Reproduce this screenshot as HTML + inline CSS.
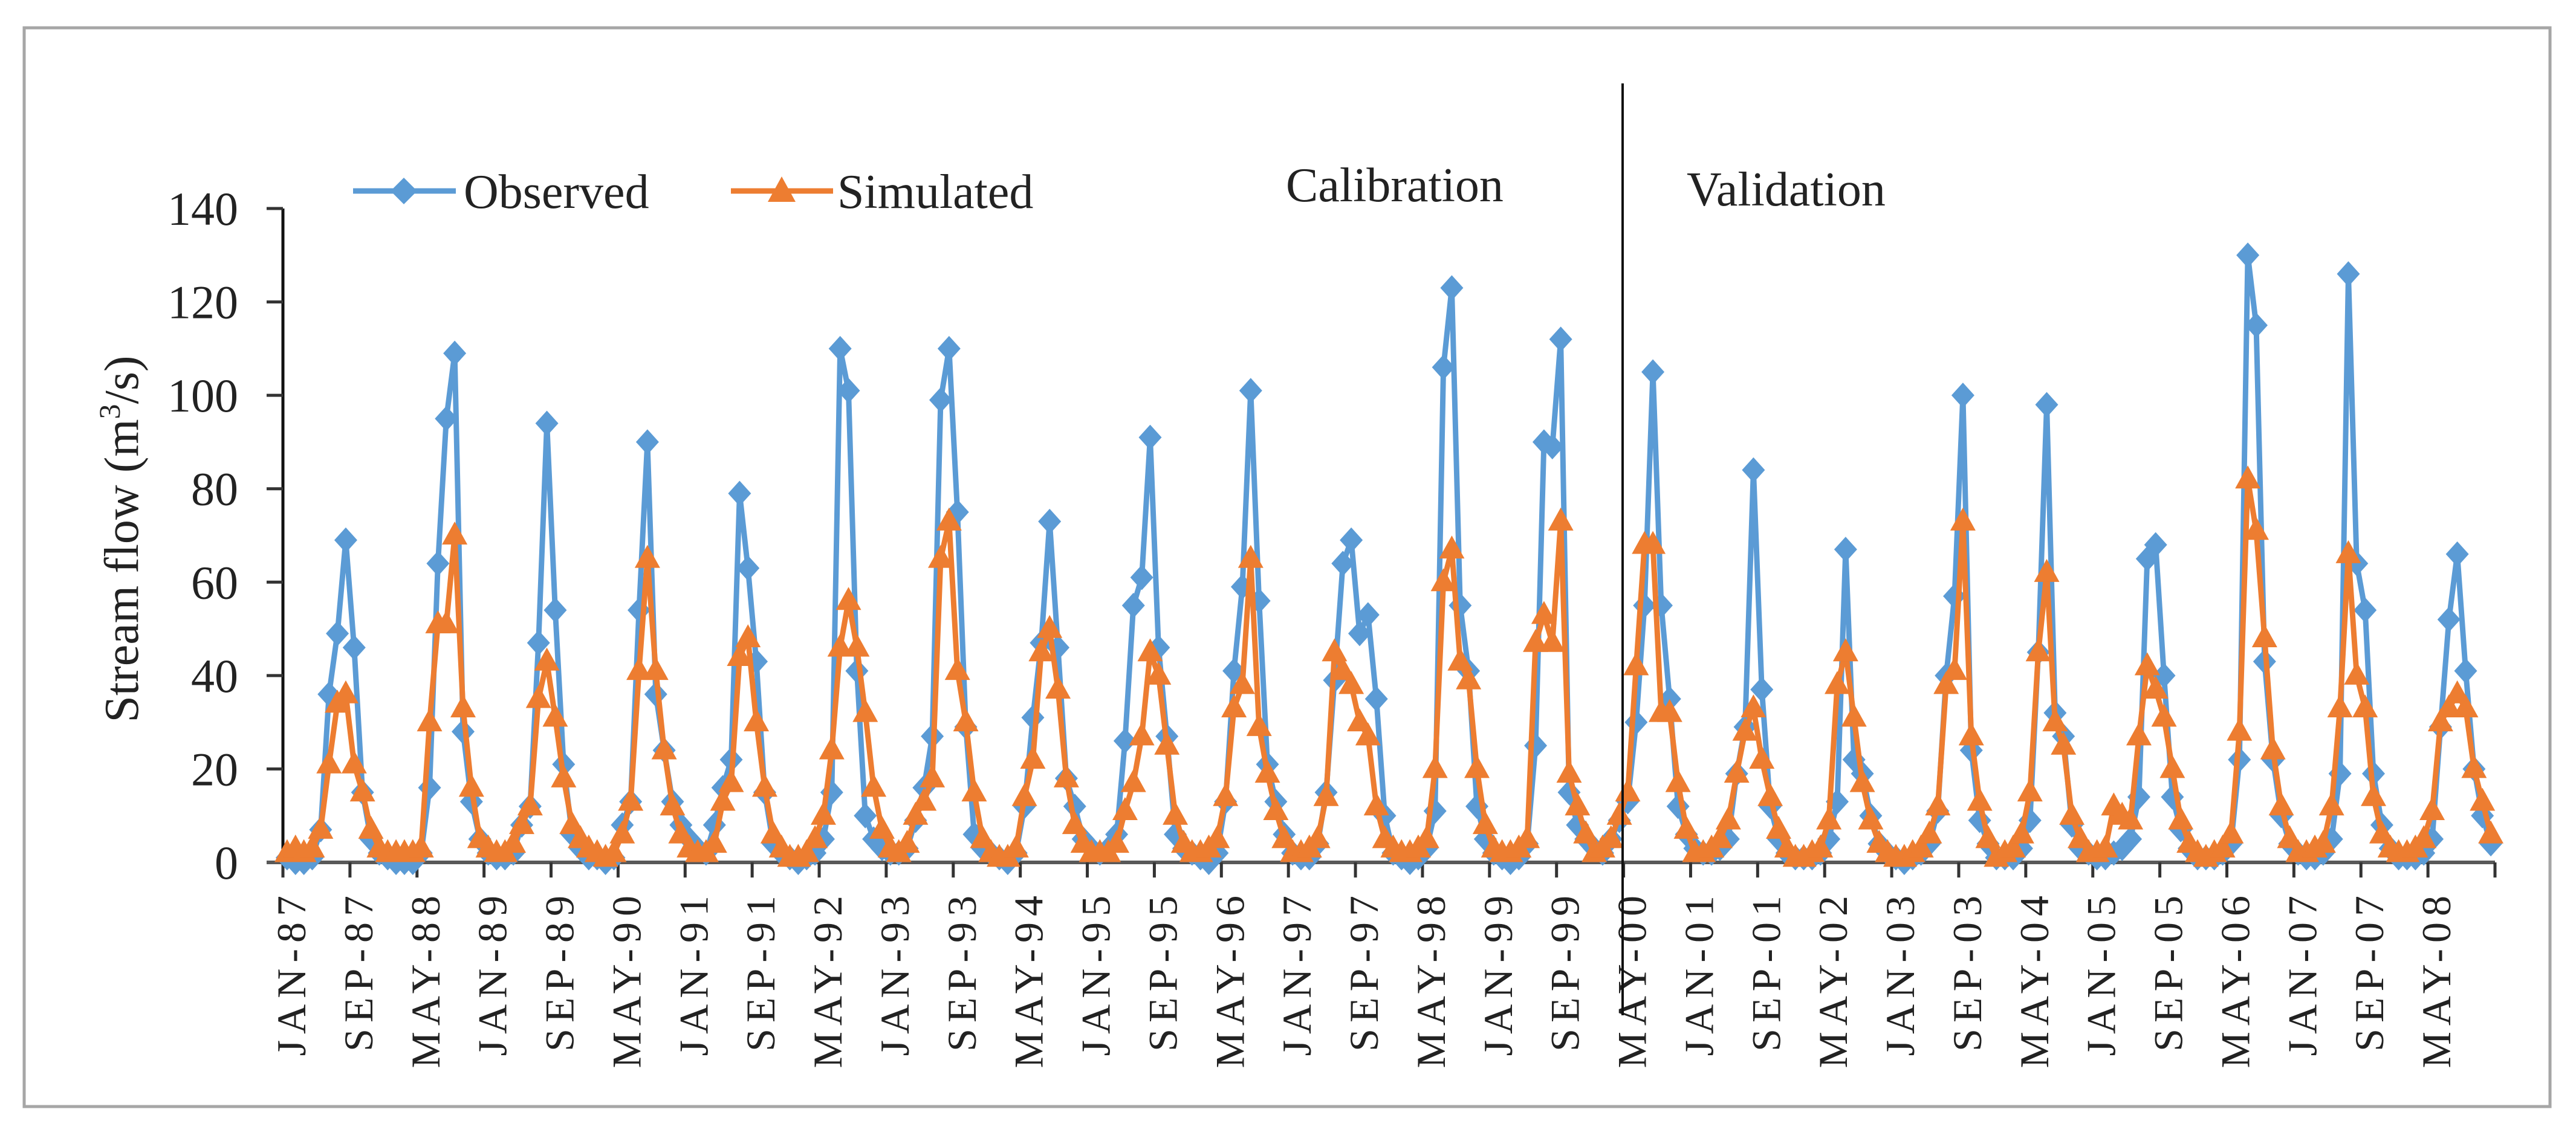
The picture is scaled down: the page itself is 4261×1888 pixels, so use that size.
<!DOCTYPE html>
<html><head><meta charset="utf-8"><style>
html,body{margin:0;padding:0;background:#fff;}
svg{display:block;}
text{font-family:"Liberation Serif",serif;fill:#222;}
</style></head>
<body>
<svg id="chart" width="4261" height="1888" viewBox="0 0 4261 1888" xmlns="http://www.w3.org/2000/svg">
<rect x="40" y="46" width="4178" height="1785" fill="#fff" stroke="#a6a6a6" stroke-width="5"/>
<g id="grid"></g>
<g id="axes"></g>
<g id="series"></g>
<g id="labels"></g>
<line x1="2684" y1="138" x2="2684" y2="1680" stroke="#111" stroke-width="4"/>
<text x="2127" y="333" font-size="80">Calibration</text>
<text x="2790" y="340" font-size="80">Validation</text>
<g>
  <g>
    <line x1="584" y1="316" x2="754" y2="316" stroke="#5B9BD5" stroke-width="9"/>
    <polygon points="668,294 690,316 668,338 646,316" fill="#5B9BD5"/>
    <text x="767" y="344" font-size="80">Observed</text>
  </g>
  <g>
    <line x1="1209" y1="316" x2="1378" y2="316" stroke="#ED7D31" stroke-width="9"/>
    <polygon points="1293,292 1316,334 1270,334" fill="#ED7D31"/>
    <text x="1385" y="344" font-size="80">Simulated</text>
  </g>
</g>
<text transform="translate(228,892) rotate(-90)" text-anchor="middle" font-size="80">Stream flow (m<tspan font-size="50" dy="-30">3</tspan><tspan dy="30">/s)</tspan></text>
</svg>
<script>
const observed = [
1,0,0,1,7,36,49,69,46,15,5,2,
1,0,0,0,2,16,64,95,109,28,13,5,
2,1,1,2,8,12,47,94,54,21,6,3,
1,1,0,1,8,13,54,90,36,24,13,8,
5,3,2,8,16,22,79,63,43,15,4,2,
1,0,1,2,5,15,110,101,41,10,5,3,
2,2,3,9,16,27,99,110,75,29,6,3,
2,1,0,2,12,31,47,73,46,18,12,5,
3,2,3,6,26,55,61,91,46,27,6,3,
2,1,0,2,13,41,59,101,56,21,13,6,
2,1,1,4,15,39,64,69,49,53,35,10,
2,1,0,1,3,11,106,123,55,41,12,5,
2,1,0,1,4,25,90,89,112,15,8,5,
3,2,5,9,13,30,55,105,55,35,12,6,
3,2,2,3,5,19,29,84,37,12,5,2,
1,1,1,2,5,13,67,22,19,10,4,2,
1,0,1,2,4,11,40,57,100,24,9,4,
1,1,1,3,9,45,98,32,27,8,3,2,
1,1,2,3,5,14,65,68,40,14,7,3,
1,1,1,2,4,22,130,115,43,22,10,4,
2,1,1,2,5,19,126,64,54,19,8,3,
1,1,1,2,5,29,52,66,41,20,10,4
];
const simulated = [
2,3,2,3,7,21,34,36,21,15,7,3,
2,2,2,2,3,30,51,51,70,33,16,5,
3,2,2,4,8,12,35,43,31,18,8,5,
3,2,1,2,6,13,41,65,41,24,12,6,
3,2,2,4,13,17,44,48,30,16,6,3,
1,1,2,5,10,24,46,56,46,32,16,7,
3,2,4,10,13,18,65,73,41,30,15,5,
2,1,1,3,14,22,45,50,37,18,8,4,
2,2,2,4,11,17,27,45,40,25,10,4,
2,2,3,5,14,33,38,65,29,19,11,5,
2,2,3,5,14,45,41,38,30,27,12,5,
3,2,2,3,5,20,60,67,43,39,20,8,
3,2,2,3,5,47,53,47,73,19,12,6,
2,3,5,10,15,42,68,68,32,32,17,7,
2,2,3,5,9,19,28,33,22,14,7,3,
1,1,2,3,9,38,45,31,17,9,4,2,
1,1,2,3,6,12,38,41,73,27,13,5,
1,2,3,6,15,45,62,30,25,10,5,2,
2,3,12,10,9,27,42,37,31,20,9,4,
2,1,2,3,6,28,82,71,48,24,12,5,
2,2,3,4,12,33,66,40,33,14,6,3,
2,2,3,5,11,30,33,36,33,20,13,6
];
const yTicks = [0,20,40,60,80,100,120,140];
const xTickLabels = ["JAN-87","SEP-87","MAY-88","JAN-89","SEP-89","MAY-90","JAN-91","SEP-91","MAY-92","JAN-93","SEP-93","MAY-94","JAN-95","SEP-95","MAY-96","JAN-97","SEP-97","MAY-98","JAN-99","SEP-99","MAY-00","JAN-01","SEP-01","MAY-02","JAN-03","SEP-03","MAY-04","JAN-05","SEP-05","MAY-06","JAN-07","SEP-07","MAY-08"];

const NS = "http://www.w3.org/2000/svg";
const X0 = 468, X1 = 4127, Y0 = 1427, YTOP = 345, YMAX = 140;
const N = observed.length;
const step = (X1 - X0) / N;
function xPos(i){ return X0 + (i + 0.5) * step; }
function xTick(i){ return X0 + i * step; }
function yPos(v){ return Y0 - v / YMAX * (Y0 - YTOP); }
function mk(tag, attrs, parent){ const e = document.createElementNS(NS, tag); for (const k in attrs) e.setAttribute(k, attrs[k]); parent.appendChild(e); return e; }

const axes = document.getElementById('axes');
const labels = document.getElementById('labels');
const series = document.getElementById('series');

const ya = mk('line', {x1:X0, y1:YTOP, x2:X0, y2:Y0, stroke:'#111', 'stroke-width':5}, axes);


yTicks.forEach(v => {
  const t = mk('line', {x1:X0-27, y1:yPos(v), x2:X0, y2:yPos(v), stroke:'#333', 'stroke-width':5}, axes);
  
  
  const l = mk('text', {x:394, y:yPos(v)+27, 'text-anchor':'end', 'font-size':78}, labels);
  l.textContent = v;
  
  
});
const xa = mk('line', {x1:X0-27, y1:Y0, x2:X1, y2:Y0, stroke:'#595959', 'stroke-width':6}, axes);


for (let k = 0; k <= xTickLabels.length; k++) {
  const tx = xTick(k * 8);
  const t = mk('line', {x1:tx, y1:Y0, x2:tx, y2:Y0+25, stroke:'#333', 'stroke-width':5}, axes);
  
  
  if (k < xTickLabels.length) {
    const l = mk('text', {transform:`translate(${tx+37},1472) rotate(-90)`, 'text-anchor':'end', 'font-size':68, 'letter-spacing':10}, labels);
    l.textContent = xTickLabels[k];
    
    
  }
}

function drawSeries(data, color, name, marker){
  const g = mk('g', {}, series);
  
  
  const pts = data.map((v,i) => xPos(i).toFixed(1) + ',' + yPos(v).toFixed(1)).join(' ');
  const pl = mk('polyline', {points:pts, fill:'none', stroke:color, 'stroke-width':9, 'stroke-linejoin':'round'}, g);
  
  
  data.forEach((v,i) => {
    const x = xPos(i), y = yPos(v);
    let p;
    if (marker === 'diamond') p = mk('polygon', {points:`${x},${y-21} ${x+19},${y} ${x},${y+21} ${x-19},${y}`, fill:color}, g);
    else p = mk('polygon', {points:`${x},${y-23} ${x+21},${y+15} ${x-21},${y+15}`, fill:color}, g);
    
    
  });
}
drawSeries(observed, '#5B9BD5', 'observed', 'diamond');
drawSeries(simulated, '#ED7D31', 'simulated', 'triangle');
</script>
</body></html>
